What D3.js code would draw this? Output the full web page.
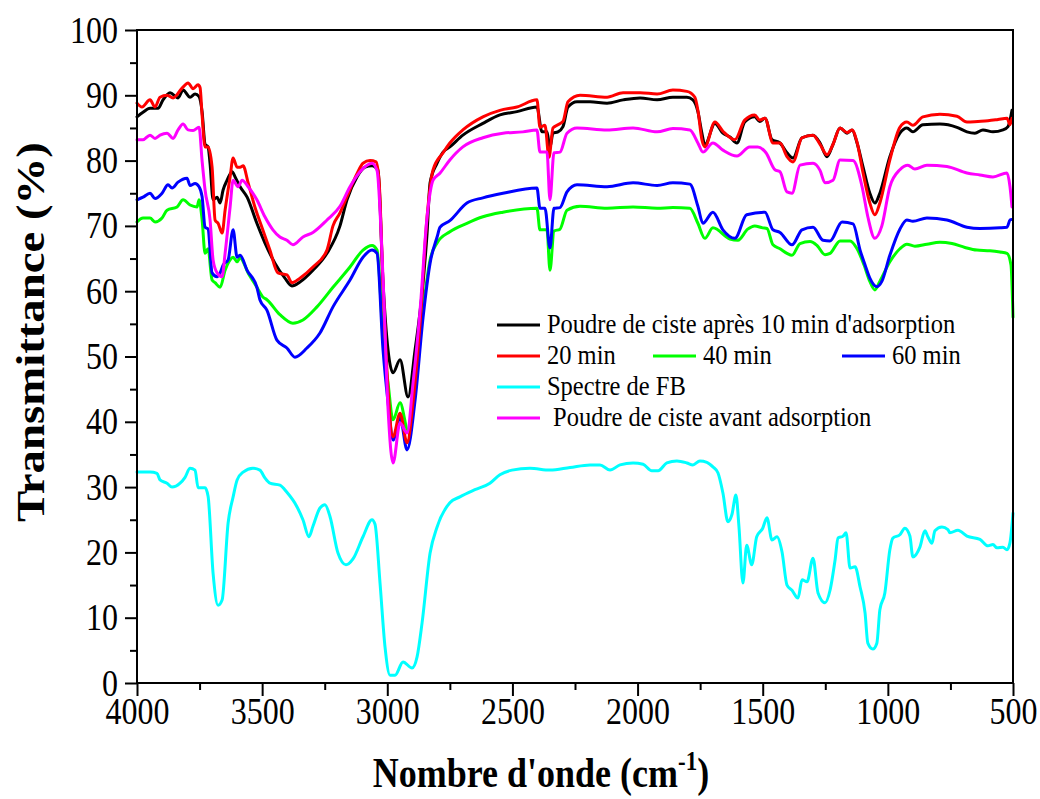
<!DOCTYPE html>
<html>
<head>
<meta charset="utf-8">
<script src="https://cdn.jsdelivr.net/npm/d3@7"></script>
<style>
  body { margin: 0; background: #fff; }
  text { font-family: "Liberation Serif", "Times New Roman", serif; fill: #000; }
</style>
</head>
<body>
<svg id="chart" width="1040" height="799"></svg>
<script>
// Axis ticks
const wavenumberTicks = [4000, 3500, 3000, 2500, 2000, 1500, 1000, 500];
const wavenumberMinorTicks = [3750, 3250, 2750, 2250, 1750, 1250, 750];
const transmittanceTicks = [0, 10, 20, 30, 40, 50, 60, 70, 80, 90, 100];
const transmittanceMinorTicks = [5, 15, 25, 35, 45, 55, 65, 75, 85, 95];

// Spectra: [wavenumber (cm-1), transmittance (%)]
const ciste10min = [[4000,86.7],[3976,87.4],[3948,88.0],[3916,88.0],[3896,89.3],[3868,90.4],[3836,89.6],[3816,90.8],[3788,89.7],[3768,90.2],[3752,89.8],[3740,87.5],[3728,82.5],[3716,82.1],[3708,79.5],[3696,74],[3680,74.4],[3668,73.5],[3656,75.5],[3640,77],[3620,78.3],[3608,77.5],[3588,76],[3560,74.4],[3521,70.4],[3489,67.4],[3449,64.3],[3409,62],[3381,60.8],[3349,61.4],[3297,63.2],[3241,65.8],[3189,70],[3161,74],[3121,77.5],[3089,79],[3061,79.2],[3037,78.5],[3017,61.3],[2997,51],[2977,47.5],[2949,49.5],[2917,43.8],[2889,51],[2861,59.7],[2841,68.9],[2829,76.6],[2801,79.6],[2777,81.3],[2750,82.1],[2698,83.9],[2618,85.7],[2550,87],[2482,87.5],[2402,88.2],[2382,84.4],[2362,84.4],[2350,82],[2338,84.2],[2318,84.4],[2298,85.2],[2278,88.2],[2242,89],[2190,89],[2122,88.8],[2058,89.3],[1990,89.6],[1922,89.3],[1859,89.7],[1803,89.7],[1779,89.3],[1759,87.5],[1743,84.2],[1731,82.4],[1691,85.7],[1659,84.2],[1631,83.6],[1603,82.7],[1572,85.9],[1532,86.7],[1512,86],[1491,86.5],[1463,83.2],[1431,82.7],[1403,81.2],[1379,80.4],[1343,83.5],[1299,83.9],[1271,82.7],[1243,80.6],[1219,82.5],[1191,85],[1163,84.2],[1143,84.7],[1123,82.7],[1099,79],[1072,75],[1052,73.5],[1032,75],[992,80.6],[952,84.2],[924,85],[900,84.4],[860,85.5],[792,85.6],[724,85.1],[684,84.4],[652,84.2],[620,84.7],[580,84.4],[540,84.7],[520,85.2],[504,87.7]];

const ciste20min = [[4000,88.8],[3980,88.2],[3948,89.3],[3928,88.2],[3908,89.7],[3880,90],[3856,89.6],[3820,91.1],[3796,91.9],[3776,91],[3756,91.6],[3748,91.2],[3740,87],[3728,82.1],[3716,82.1],[3700,79],[3688,70.9],[3676,70.4],[3660,68.9],[3648,72.4],[3628,77.5],[3616,80.4],[3600,79],[3588,79],[3576,79.2],[3556,76.6],[3529,72.9],[3501,69.8],[3469,66.3],[3437,62.8],[3401,62.5],[3381,61.3],[3349,62],[3297,63.7],[3241,66.3],[3217,70],[3189,72],[3161,74.5],[3121,78],[3097,79.6],[3069,80],[3045,79.8],[3033,77],[3017,61],[2997,45],[2977,37.7],[2949,41.3],[2921,36.8],[2897,43],[2869,55.1],[2841,71.4],[2817,78.6],[2777,81.2],[2750,82.7],[2698,84.7],[2618,86.7],[2550,87.7],[2482,88.2],[2402,89.3],[2390,85.1],[2370,85.4],[2354,80.5],[2338,85],[2318,85.5],[2298,86],[2278,89],[2230,90],[2122,89.7],[2058,90.4],[1990,90.4],[1922,90.2],[1859,90.8],[1803,90.6],[1771,89.7],[1759,87.7],[1743,83.2],[1731,82.1],[1691,85.9],[1659,84.5],[1611,83.2],[1572,86.2],[1532,87],[1512,86.2],[1491,86.5],[1459,82.7],[1431,82.7],[1403,80.6],[1379,79.8],[1343,83.5],[1299,83.9],[1271,82.5],[1243,80.9],[1219,82.5],[1191,85],[1163,84.3],[1143,84.7],[1123,82.8],[1099,78.1],[1072,73.5],[1052,71.7],[1032,73.5],[992,80.1],[952,85.1],[924,85.9],[900,85.4],[860,86.7],[792,87.1],[724,86.8],[684,85.9],[640,86],[600,86.1],[560,86.3],[524,86.5],[512,85.5],[504,86.5]];

const ciste40min = [[4000,70.6],[3976,71.2],[3948,71.2],[3928,70.6],[3900,71.2],[3880,72.4],[3840,72.9],[3816,74],[3788,73.2],[3760,72.9],[3752,74],[3740,71],[3728,65.8],[3716,66.5],[3700,61.7],[3688,61.3],[3668,60.6],[3648,63.2],[3628,64.8],[3616,65.2],[3600,64.5],[3588,65.1],[3556,62.8],[3521,60.6],[3497,59.1],[3481,58.7],[3429,56.4],[3377,55.1],[3337,55.6],[3281,57.6],[3217,60.6],[3149,63.7],[3097,66.3],[3061,67],[3041,66.3],[3017,53],[2997,46],[2977,40.3],[2949,42.9],[2917,38.7],[2889,45.9],[2857,57.1],[2829,64.8],[2801,67.4],[2750,69.1],[2682,70.4],[2618,71.4],[2538,72.1],[2402,72.7],[2390,69.4],[2362,69.4],[2350,63.2],[2334,69.2],[2310,69.5],[2282,72.4],[2230,73],[2122,72.7],[2018,72.9],[1922,72.7],[1859,72.8],[1791,72.7],[1759,70.4],[1731,68.1],[1699,69.7],[1631,68],[1599,67.8],[1560,69.5],[1532,70],[1500,69.7],[1483,69.6],[1459,67.1],[1431,66.5],[1403,65.8],[1383,65.5],[1351,67.3],[1311,67.6],[1283,67],[1251,65.6],[1231,65.8],[1191,67.7],[1151,67.7],[1123,66.5],[1095,64],[1072,61.5],[1052,60.2],[1032,61.5],[992,64.5],[952,66.5],[924,67.2],[892,66.9],[844,67.2],[792,67.5],[744,67.3],[692,66.7],[644,66.3],[592,66.2],[552,66],[524,65.8],[508,64],[500,56]];

const ciste60min = [[4000,74],[3976,74.4],[3948,75],[3928,74.2],[3900,75],[3876,76.3],[3860,75.8],[3836,76.7],[3800,77.3],[3788,76.2],[3768,76.5],[3752,76],[3740,74.5],[3728,69.8],[3716,69.5],[3700,62.8],[3680,62.2],[3668,62.8],[3656,64],[3636,64.8],[3616,69.4],[3600,65.2],[3588,65.5],[3560,63.2],[3521,60.6],[3509,58.7],[3481,57.1],[3441,52.5],[3401,51.3],[3369,49.9],[3321,51.3],[3269,53.6],[3217,57.6],[3149,61.7],[3097,65.2],[3061,66.3],[3041,65.8],[3017,51],[2997,43],[2977,37.2],[2949,40.7],[2921,35.7],[2889,43.3],[2857,56],[2829,64.3],[2801,68.3],[2789,69.8],[2750,70.8],[2682,73.5],[2618,74.3],[2538,75],[2402,75.8],[2390,72.7],[2370,72.7],[2350,66.6],[2334,72.7],[2310,72.8],[2282,75.2],[2242,76.3],[2122,76],[2018,76.6],[1922,76.2],[1859,76.6],[1791,76.4],[1759,73],[1739,70.4],[1699,72.1],[1659,69.4],[1611,68.1],[1564,71.7],[1491,72.1],[1459,69.4],[1431,69],[1383,67.1],[1343,69.4],[1299,69.8],[1259,67.8],[1231,67.7],[1183,70.6],[1139,70.3],[1111,66.3],[1091,64],[1072,62],[1044,60.7],[1024,61.5],[992,65.5],[952,69.5],[924,70.9],[900,70.7],[844,71.2],[764,70.9],[684,69.8],[632,69.6],[552,69.7],[524,69.8],[512,70.9],[504,71]];

const spectreFB = [[4000,32.3],[3948,32.3],[3920,32.1],[3908,31.1],[3880,30.6],[3860,30],[3828,30.6],[3808,31.5],[3788,32.9],[3768,32.6],[3756,29.9],[3728,29.9],[3716,28.6],[3696,16.8],[3676,11.9],[3660,12.7],[3636,24.5],[3616,28.5],[3600,31.1],[3576,32.3],[3537,32.9],[3509,32.6],[3489,31.4],[3469,30.6],[3429,30.3],[3401,29.2],[3361,27],[3337,25],[3313,22.4],[3297,24],[3269,26.8],[3249,27.3],[3229,25.5],[3197,19.9],[3165,18.1],[3137,19],[3097,22.4],[3061,25],[3049,24.3],[3029,15.3],[3009,5.5],[2989,1.2],[2969,1.2],[2937,3.2],[2901,2.3],[2881,4],[2861,9.2],[2829,19.9],[2801,23.9],[2750,27.6],[2710,28.5],[2650,29.6],[2590,30.6],[2550,31.9],[2502,32.6],[2430,32.9],[2350,32.6],[2270,33],[2190,33.4],[2150,33.4],[2110,32.6],[2070,33.4],[2018,33.7],[1978,33.5],[1943,32.5],[1918,32.5],[1883,33.7],[1843,34],[1803,33.7],[1779,33.4],[1751,34],[1723,33.8],[1699,33.1],[1679,32.2],[1659,29.1],[1639,24.7],[1623,25.8],[1607,28.8],[1595,24],[1579,15.3],[1564,21.1],[1544,18.1],[1524,22.4],[1500,23.7],[1483,25.3],[1463,21.9],[1443,22.4],[1423,20.1],[1403,15],[1383,14.2],[1359,13],[1343,15.8],[1323,15.5],[1299,19.1],[1279,13.8],[1251,12.3],[1231,14.2],[1211,18.8],[1199,22.2],[1179,22.5],[1167,23],[1151,17.6],[1131,17.8],[1111,14.7],[1091,10.7],[1080,6.1],[1060,5.2],[1044,6.1],[1032,11.2],[1012,13.8],[992,20.4],[980,22.2],[952,22.7],[932,23.7],[912,22.5],[900,19.3],[872,20.8],[852,23.3],[840,22.4],[824,21.4],[812,23.3],[784,23.9],[760,23.5],[752,23],[720,23.4],[684,22.5],[632,22],[600,21],[580,21.2],[564,20.7],[540,20.8],[524,20.4],[512,21.5],[500,26]];

const cisteAvant = [[4000,83.2],[3976,83.2],[3948,83.9],[3928,83.4],[3908,83.9],[3880,84.2],[3856,83.4],[3836,84.7],[3816,85.6],[3796,84.7],[3776,84.6],[3752,85.1],[3740,80],[3728,75.5],[3708,70.9],[3696,64.8],[3680,62.8],[3660,62.2],[3648,65.8],[3628,72.9],[3616,77],[3596,76],[3580,77],[3556,76],[3521,74],[3489,71.4],[3457,69.4],[3429,68.3],[3401,67.8],[3377,67.1],[3337,68.3],[3297,69],[3241,70.9],[3189,73],[3149,76],[3109,78.3],[3081,79.3],[3061,79.6],[3041,78.5],[3017,62],[2997,42],[2977,33.7],[2949,39.8],[2921,38.3],[2897,46],[2869,57.1],[2841,71.4],[2817,77],[2789,78.1],[2750,80.1],[2698,82.1],[2618,83.5],[2538,84.2],[2458,84.4],[2402,84.7],[2390,81.3],[2362,81.3],[2350,74],[2334,81.2],[2310,81.3],[2282,84.2],[2242,85],[2122,84.7],[2018,85],[1922,84.4],[1859,84.9],[1791,84.7],[1759,82.7],[1739,81.3],[1699,82.7],[1659,81.6],[1603,80.7],[1552,82.1],[1520,82.1],[1487,81.2],[1451,78.6],[1431,78.3],[1403,75.2],[1383,75],[1351,79.3],[1299,79.6],[1271,78.5],[1251,76.6],[1219,77],[1191,80.1],[1139,80],[1103,76],[1080,71.4],[1052,68.1],[1024,70],[992,76],[952,78.6],[920,79.3],[892,78.7],[844,79.3],[764,79.1],[684,78.1],[632,77.8],[580,77.5],[524,78.1],[512,76],[504,72.9]];

// Drawing order (first = bottom)
const spectra = [
  { data: spectreFB,  color: "#00ffff" },
  { data: ciste40min, color: "#00ff00" },
  { data: ciste60min, color: "#0000ff" },
  { data: ciste10min, color: "#000000" },
  { data: ciste20min, color: "#ff0000" },
  { data: cisteAvant, color: "#ff00ff" }
];

const legendItems = [
  { label: "Poudre de ciste après 10 min d'adsorption", color: "#000000", col: 0, row: 0 },
  { label: "20 min", color: "#ff0000", col: 0, row: 1 },
  { label: "40 min", color: "#00ff00", col: 1, row: 1 },
  { label: "60 min", color: "#0000ff", col: 2, row: 1 },
  { label: "Spectre de FB", color: "#00ffff", col: 0, row: 2 },
  { label: " Poudre de ciste avant adsorption", color: "#ff00ff", col: 0, row: 3 }
];

// Layout
const plot = { left: 137, right: 1013, top: 30, bottom: 683 };
const svg = d3.select("#chart");
const stretch = 1.2;   // tall glyph shape used by the axis text

const x = d3.scaleLinear().domain([4000, 500]).range([plot.left, plot.right]);
const y = d3.scaleLinear().domain([0, 100]).range([plot.bottom, plot.top]);

// Minor ticks
svg.append("g")
  .attr("transform", `translate(0,${plot.bottom})`)
  .call(d3.axisBottom(x).tickValues(wavenumberMinorTicks).tickSize(7).tickSizeOuter(0).tickFormat(""))
  .call(g => g.select(".domain").remove())
  .call(g => g.selectAll("line").attr("stroke", "#000").attr("stroke-width", 2));
svg.append("g")
  .attr("transform", `translate(${plot.left},0)`)
  .call(d3.axisLeft(y).tickValues(transmittanceMinorTicks).tickSize(7).tickSizeOuter(0).tickFormat(""))
  .call(g => g.select(".domain").remove())
  .call(g => g.selectAll("line").attr("stroke", "#000").attr("stroke-width", 2));

// Major ticks and labels
svg.append("g")
  .attr("transform", `translate(0,${plot.bottom})`)
  .call(d3.axisBottom(x).tickValues(wavenumberTicks).tickSize(13).tickSizeOuter(0).tickFormat(d3.format("d")))
  .call(g => g.select(".domain").remove())
  .call(g => g.selectAll("line").attr("stroke", "#000").attr("stroke-width", 2))
  .call(g => g.selectAll("text")
    .attr("y", 0).attr("dy", 0)
    .attr("font-size", 32)
    .attr("font-family", "Liberation Serif, Times New Roman, serif")
    .attr("fill", "#000")
    .attr("transform", `translate(0,41) scale(1,${stretch})`));

svg.append("g")
  .attr("transform", `translate(${plot.left},0)`)
  .call(d3.axisLeft(y).tickValues(transmittanceTicks).tickSize(12).tickSizeOuter(0).tickFormat(d3.format("d")))
  .call(g => g.select(".domain").remove())
  .call(g => g.selectAll("line").attr("stroke", "#000").attr("stroke-width", 2))
  .call(g => g.selectAll("text")
    .attr("x", 0).attr("y", 0).attr("dy", 0)
    .attr("font-size", 32)
    .attr("font-family", "Liberation Serif, Times New Roman, serif")
    .attr("fill", "#000")
    .attr("transform", `translate(-19,12) scale(1,${stretch})`));

// Spectra
const line = d3.line()
  .x(d => x(d[0]))
  .y(d => y(d[1]))
  .curve(d3.curveMonotoneX);

svg.append("g")
  .selectAll("path")
  .data(spectra)
  .join("path")
  .attr("d", d => line(d.data))
  .attr("fill", "none")
  .attr("stroke", d => d.color)
  .attr("stroke-width", 3)
  .attr("stroke-linejoin", "round")
  .attr("stroke-linecap", "round");

// Frame
svg.append("rect")
  .attr("x", plot.left).attr("y", plot.top)
  .attr("width", plot.right - plot.left)
  .attr("height", plot.bottom - plot.top)
  .attr("fill", "none")
  .attr("stroke", "#000")
  .attr("stroke-width", 2);

// Axis titles
const xTitle = svg.append("text")
  .attr("transform", `translate(541,787) scale(1,${stretch})`)
  .attr("text-anchor", "middle")
  .attr("font-size", 36)
  .attr("font-weight", "bold");
xTitle.append("tspan").text("Nombre d'onde (cm");
xTitle.append("tspan").attr("dy", -14).attr("font-size", 23).text("-1");
xTitle.append("tspan").attr("dy", 14).text(")");

svg.append("text")
  .attr("transform", `translate(44,332) rotate(-90) scale(${stretch},1)`)
  .attr("text-anchor", "middle")
  .attr("font-size", 39)
  .attr("font-weight", "bold")
  .text("Transmittance (%)");

// Legend
const legendCols = [497, 653, 842];
const legendRows = [325, 356, 387, 418];
const legend = svg.append("g");
legendItems.forEach(item => {
  const lx = legendCols[item.col], ly = legendRows[item.row];
  legend.append("line")
    .attr("x1", lx).attr("x2", lx + 43)
    .attr("y1", ly).attr("y2", ly)
    .attr("stroke", item.color)
    .attr("stroke-width", 3);
  legend.append("text")
    .attr("transform", `translate(${lx + 50},${ly + 8}) scale(1,1.08)`)
    .attr("font-size", 24.5)
    .style("white-space", "pre")
    .text(item.label);
});
</script>
</body>
</html>
